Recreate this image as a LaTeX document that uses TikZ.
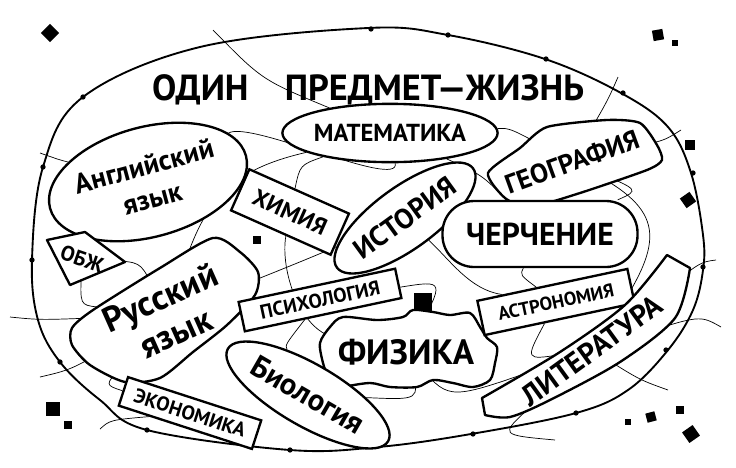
\documentclass[tikz,border=0pt]{standalone}
\usepackage{fontspec}
\setmainfont{PT Sans}
\usetikzlibrary{shapes.geometric,backgrounds}
\begin{document}
\begin{tikzpicture}[x=0.03cm,y=-0.03cm,
  box/.style={draw,fill=white,line width=2pt,inner sep=0pt},
  blob/.style={draw,fill=white,line width=2pt,line join=round},
  wire/.style={line width=0.6pt},
  rim/.style={line width=1.6pt},
  bead/.style={circle,fill,inner sep=0pt,minimum size=4.5pt},
  chip/.style={fill,inner sep=0pt,minimum size=#1},
  fs/.style={font=\bfseries\fontsize{#1}{#1}\selectfont}]
\useasboundingbox (0,0) rectangle (736,467);
% outer rim
\draw[rim] plot[smooth cycle,tension=0.6] coordinates {(32,260) (43,167) (83,97) (200,47) (368,28) (448,35) (545,59) (621,93) (668,127) (691,173) (703,235) (703,270) (693,310) (668,350) (628,390) (576,413) (471,434) (378,447) (290,450) (147,430) (100,400) (60,362) (38,320)};
\foreach \p in {(83,97),(43,167),(371,29),(448,35),(546,59),(623,93),(693,173),(703,267),(666,350),(576,413),(473,434),(378,446),(290,450),(147,430),(60,362),(32,260)}
  \node[bead] at \p {};
% title
\node[fs=31] (title) at (368,90) {ОДИН\quad ПРЕДМЕТ—ЖИЗНЬ};
% subjects
\node[box,ellipse,minimum width=6cm,minimum height=1.75cm,fs=21] (mat) at (390,133) {МАТЕМАТИКА};
\node[box,ellipse,minimum width=4.3cm,minimum height=3.3cm,rotate=15,align=center,font=\bfseries\fontsize{24}{28}\selectfont] (eng) at (148,182) {Английский\\язык};
\node[box,minimum width=3.27cm,minimum height=1.35cm,rotate=-24,fs=20] (chem) at (290,212) {ХИМИЯ};
\node[box,ellipse,minimum width=4.5cm,minimum height=1.86cm,rotate=36,fs=24] (hist) at (405,218) {ИСТОРИЯ};
\draw[blob] plot[smooth cycle,tension=0.4] coordinates {(488,173) (520,148) (547,127) (607,120) (640,123) (657,145) (662,160) (647,170) (580,193) (530,207) (505,198)};
\node[rotate=20,fs=23] (geo) at (572,162) {ГЕОГРАФИЯ};
\node[box,rounded corners=0.95cm,minimum width=5.85cm,minimum height=1.98cm,fs=27] (cher) at (540,234) {ЧЕРЧЕНИЕ};
\draw[blob] (47,240) -- (85,232) -- (125,262) -- (70,285) -- cycle;
\node[rotate=-19,fs=18] (obzh) at (82,259) {ОБЖ};
\draw[blob] plot[smooth cycle,tension=0.45] coordinates {(72,328) (93,310) (160,268) (213,238) (240,252) (258,272) (255,295) (227,325) (193,352) (160,378) (125,382) (90,365) (72,345)};
\node[rotate=24,align=center,font=\bfseries\fontsize{30}{33}\selectfont] (rus) at (168,315) {Русский\\язык};
\node[box,minimum width=4.8cm,minimum height=0.9cm,rotate=12,fs=17] (psy) at (320,300) {ПСИХОЛОГИЯ};
\draw[blob] plot[smooth cycle,tension=0.5] coordinates {(320,343) (330,327) (343,317) (377,320) (403,317) (413,310) (433,312) (450,315) (470,313) (480,327) (487,338) (497,347) (495,363) (490,380) (473,387) (453,383) (433,380) (417,387) (390,387) (370,383) (343,387) (333,390) (328,377) (323,363)};
\node[fs=30] (phys) at (406,352) {ФИЗИКА};
\node[box,minimum width=4.6cm,minimum height=1.05cm,rotate=12,fs=16] (astro) at (556,302) {АСТРОНОМИЯ};
\draw[blob] plot[smooth,tension=0.5] coordinates {(482,398) (560,352) (625,305) (667,255)} -- (690,268) -- plot[smooth,tension=0.5] coordinates {(690,268) (675,318) (620,362) (550,400) (510,417) (485,415)} -- cycle;
\node[rotate=36,fs=25] (lit) at (592,350) {ЛИТЕРАТУРА};
\node[box,ellipse,minimum width=5.55cm,minimum height=1.86cm,rotate=-30,fs=26] (bio) at (308,395) {Биология};
\node[box,minimum width=4.2cm,minimum height=0.9cm,rotate=-18,fs=17] (eco) at (190,413) {ЭКОНОМИКА};
% black marks
\node[chip=11pt,rotate=45] (d1) at (50,33) {};
\node[chip=9pt,rotate=10] (d2) at (658,35) {};
\node[chip=5pt] (d3) at (675,43) {};
\node[chip=9pt] (d4) at (690,145) {};
\node[chip=10pt,rotate=35] (d5) at (688,200) {};
\node[chip=5pt] (d6) at (628,422) {};
\node[chip=8pt,rotate=15] (d7) at (651,417) {};
\node[chip=7pt] (d8) at (680,410) {};
\node[chip=11pt,rotate=35] (d9) at (691,434) {};
\node[chip=12pt] (d10) at (53,409) {};
\node[chip=6pt] (d11) at (68,425) {};
\node[chip=6pt] (d12) at (257,240) {};
\node[chip=15pt] (d13) at (423,302) {};
% free ends
\coordinate (t1) at (213,30);
\coordinate (l1) at (40,153);
\coordinate (r1) at (618,77);
\coordinate (r2) at (681,130);
\coordinate (r3) at (721,327);
\coordinate (r4) at (668,390);
\coordinate (r5) at (716,260);
\coordinate (b1) at (555,440);
\coordinate (l2) at (10,317);
\coordinate (l3) at (40,377);
\coordinate (b2) at (100,429);
% thin wires
\begin{scope}[on background layer]
\draw[wire] (mat) .. controls (262,80) .. (t1);
\draw[wire] (eng) .. controls (60,160) .. (l1);
\draw[wire] (eng) .. controls (250,120) and (400,190) .. (mat);
\draw[wire] (mat) .. controls (230,170) and (205,200) .. (rus);
\draw[wire] (mat) .. controls (300,165) .. (chem);
\draw[wire] (mat) .. controls (482,175) .. (cher);
\draw[wire] (mat) .. controls (510,128) .. (geo);
\draw[wire] (geo) .. controls (608,100) .. (r1);
\draw[wire] (geo) .. controls (665,140) .. (r2);
\draw[wire] (geo) .. controls (640,190) .. (cher);
\draw[wire] (geo) .. controls (665,210) and (665,240) .. (lit);
\draw[wire] (cher) .. controls (520,275) .. (astro);
\draw[wire] (astro) .. controls (525,360) .. (lit);
\draw[wire] (hist) .. controls (450,260) and (470,290) .. (astro);
\draw[wire] (lit) .. controls (700,315) .. (r3);
\draw[wire] (lit) .. controls (640,380) .. (r4);
\draw[wire] (lit) .. controls (700,262) .. (r5);
\draw[wire] (lit) .. controls (500,435) .. (b1);
\draw[wire] (phys) .. controls (420,400) .. (bio);
\draw[wire] (phys) .. controls (450,400) .. (lit);
\draw[wire] (psy) .. controls (445,280) .. (phys);
\draw[wire] (rus) .. controls (300,262) .. (hist);
\draw[wire] (chem) .. controls (280,270) and (300,330) .. (phys);
\draw[wire] (psy) .. controls (285,345) .. (bio);
\draw[wire] (rus) .. controls (105,385) .. (eco);
\draw[wire] (rus) .. controls (70,370) .. (l3);
\draw[wire] (rus) .. controls (40,320) .. (l2);
\draw[wire] (obzh) .. controls (80,305) .. (rus);
\draw[wire] (obzh) .. controls (140,262) .. (rus);
\draw[wire] (eco) .. controls (110,420) .. (b2);
\end{scope}
\end{tikzpicture}
\end{document}
